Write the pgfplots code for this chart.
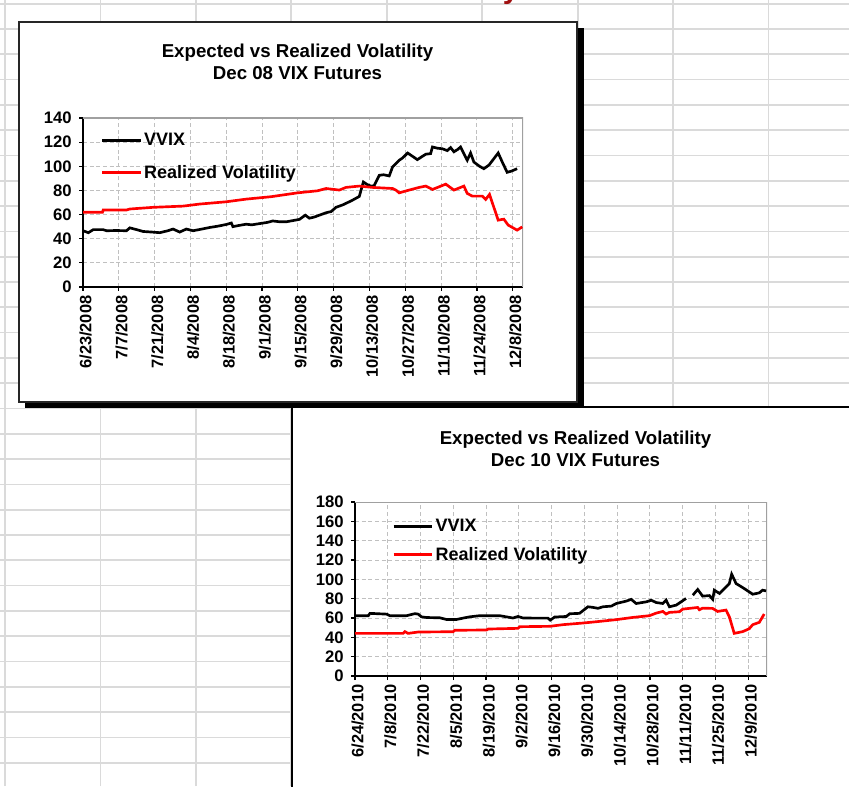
\documentclass[border=0pt]{standalone}
\usepackage{fontspec}
\setmainfont{Liberation Sans}
\usepackage{pgfplots}
\pgfplotsset{compat=1.18}
\definecolor{cellgrid}{HTML}{DADADA}
\definecolor{ggrid}{HTML}{C0C0C0}
\definecolor{pborder}{HTML}{A0A0A0}
\definecolor{vred}{HTML}{FF0000}
\definecolor{dred}{HTML}{A01010}

\pgfplotstableread{
d v
0 46.6
2.1 45
4 47.5
7.9 47.5
9.2 46.6
13 46.8
17 46.6
18.3 49
21 47.5
23.5 46
27 45.5
30 45
33 46.5
35.2 48
37.8 45.5
40.4 48
43 46.6
46 47.8
49.5 49.3
53 50.5
56 51.8
58 53
58.6 50
61 51
63.8 52
66 51.5
69 52.5
72 53.5
74.2 54.7
77 54
79.4 54
82 55
84.6 56
86.9 59.5
88.5 57
90.5 58
92.4 59.5
95 61.5
97 62.5
98.9 66
101.5 68
103.5 70
105.4 72
108 75
109.6 87
111 85
112.6 83.5
113.8 84
115.8 92.5
117.5 93
119.7 92
121 99.4
123.6 105
125 107
126.9 111
129 108
130.7 105.5
132.5 108
134 110
135.9 110.5
136.6 116
138.5 115
140.5 114.5
142.4 113
143.7 115.5
145 112
146.5 114
147.6 116
149 110
150.2 105
151.5 111
152.8 103.5
155 100
156.7 98
158.7 101
160.5 106
162.3 111
163.9 103.5
165.8 95
167.5 96
169.7 98
}\vvixA

\pgfplotstableread{
d v
0 61.9
7.6 61.9
7.9 63.8
17 63.8
18.3 64.6
27.4 66
39.1 67
45.6 68.7
56 70.6
63.8 72.8
73.5 74.8
83.9 78
91.7 79.7
95 81.6
100.2 80.3
102.8 82.5
108 83.6
113.2 82.5
121 81.6
122.3 80.3
123.6 78
127.5 80.3
131.4 82.5
134 83.6
136.6 80.8
141.8 85.2
145 80.3
148.9 83.6
150.2 77.5
152.2 75.3
156.1 75.3
157.4 72.5
158.9 76.7
162.3 55.4
164.5 56.2
166.2 51.3
169.7 47.1
171.7 49.8
}\realA

\pgfplotstableread{
d v
0 62.4
5.7 62.4
6.4 64.8
13.5 64
14.9 62.4
22 62.4
25.6 64.5
27 64
28.4 61.2
30.6 60.5
36.2 60.2
39.1 58.5
43.4 58.5
46.2 59.9
49 61.2
53.3 62.4
61.8 62.4
67.5 60
69.6 61.6
71.8 60
76 59.9
82.4 59.9
83.4 57.8
85.3 61
90.3 61.6
91.7 64.4
95.9 64.8
99.5 71.6
101.6 71
103.8 70
105.9 71.6
109.5 72.3
111.6 75
115.9 77.5
118 79.3
120.1 75
124.4 76.7
126.5 78.4
128.7 76
131.5 75
132.9 78.4
134.3 71.6
137.2 73.3
139.3 76.7
141.4 80.2
142.8 nan
144.3 83.6
146.4 89.5
148.5 82.6
151.4 83.2
152.8 79.3
153.5 88.8
155.7 85.4
158.5 92.2
159.9 95.6
160.9 105.3
162.8 95.6
165.6 91.5
169.9 84.6
172.7 86
174.1 88.8
175.6 88
}\vvixB

\pgfplotstableread{
d v
0 44.1
20.6 44.1
21.3 45.9
22.7 44.1
27 45.5
41.9 45.8
42.6 47.3
56.2 47.6
56.9 48.6
69.6 49.3
70.4 51
83.2 51.4
88.8 53.1
97.4 54.8
104.5 56.5
111.6 58.3
118.7 60.6
125.8 62.4
128.7 65.1
131.5 66.8
132.9 64.1
134.3 65.8
138.6 66.5
140 69.2
146.4 70.9
147.1 68.5
148.5 70.2
152.8 69.9
154.9 66.8
158.5 68.2
159.9 61.3
162 44.1
165.6 45.9
168.4 48.9
169.9 53.1
172.7 55.5
174.8 64.1
}\realB

\pgfplotsset{vixstyle/.style={
  scale only axis,
  axis lines*=left,
  axis line style={line width=1.5pt, black},
  ymin=0, xmin=0,
  xtick={0,14,...,168},
  tick align=outside,
  major tick length=3pt,
  tick style={black, line width=0.9pt},
  grid=major,
  major grid style={ggrid, line width=0.7pt, dash pattern=on 3pt off 2pt},
  xticklabel style={rotate=90, anchor=east, font=\bfseries\fontsize{12.3}{12.3}\selectfont, xshift=0pt, yshift=-2pt},
  yticklabel style={font=\bfseries\fontsize{12.5}{12.5}\selectfont, xshift=-2pt},
  /pgf/number format/assume math mode=true,
  unbounded coords=jump,
  legend cell align=left,
  legend image code/.code={\draw[##1] (0pt,0pt) -- (29pt,0pt);},
}}

\begin{document}
\begin{tikzpicture}[x=0.75pt,y=0.75pt]
\useasboundingbox (0,0) rectangle (849,786);
\begin{scope}
\clip (0,0) rectangle (849,786);
% spreadsheet cells
\foreach \i in {0,...,8} \draw[cellgrid, line width=1.3pt] ({5+95.45*\i},0) -- ({5+95.45*\i},786);
\foreach \j in {0,...,31} \draw[cellgrid, line width=1.3pt] (0,{786-3.7-25.3*\j}) -- (849,{786-3.7-25.3*\j});
\node[anchor=base, text=dred, font=\bfseries\fontsize{22}{22}\selectfont] at (511,787) {y};

% chart 1 frame
\fill[black] (25,758) rectangle (584,378);
\filldraw[fill=white, draw=black!85, line width=0.8pt] (19,764) rectangle (577,384);
\node[align=center, font=\bfseries\fontsize{14}{16.5}\selectfont] at (297.5,724) {Expected vs Realized Volatility\\Dec 08 VIX Futures};

\begin{axis}[vixstyle,
  at={(62.25pt,374.25pt)}, anchor=south west,
  width=330pt, height=126.75pt,
  xmax=172, ymax=140, ytick={0,20,...,140},
  xticklabels={6/23/2008,7/7/2008,7/21/2008,8/4/2008,8/18/2008,9/1/2008,9/15/2008,9/29/2008,10/13/2008,10/27/2008,11/10/2008,11/24/2008,12/8/2008},
  legend style={draw=none, fill=none, at={(axis description cs:0.04,0.923)}, anchor=north west, inner sep=0pt,
    font=\bfseries\fontsize{13.5}{13.5}\selectfont, row sep=10pt, nodes={inner sep=1.5pt}},
]
\draw[pborder, line width=1.2pt] (rel axis cs:0,1) -- (rel axis cs:1,1) -- (rel axis cs:1,0);
\addplot[black, line width=2pt] table[x=d,y=v] {\vvixA};
\addlegendentry{VVIX}
\addplot[vred, line width=2pt] table[x=d,y=v] {\realA};
\addlegendentry{Realized Volatility}
\end{axis}

% chart 2 frame
\filldraw[fill=white, draw=black, line width=0.8pt] (292,379) rectangle (900,-114);
\node[align=center, font=\bfseries\fontsize{14}{16.5}\selectfont] at (575.5,337) {Expected vs Realized Volatility\\Dec 10 VIX Futures};

\begin{axis}[vixstyle,
  at={(266.25pt,82.5pt)}, anchor=south west,
  width=309pt, height=130.5pt,
  xmax=176, ymax=180, ytick={0,20,...,180},
  xticklabels={6/24/2010,7/8/2010,7/22/2010,8/5/2010,8/19/2010,9/2/2010,9/16/2010,9/30/2010,10/14/2010,10/28/2010,11/11/2010,11/25/2010,12/9/2010},
  legend style={draw=none, fill=none, at={(axis description cs:0.09,0.912)}, anchor=north west, inner sep=0pt,
    font=\bfseries\fontsize{13.5}{13.5}\selectfont, row sep=7pt, nodes={inner sep=1.5pt}},
]
\draw[pborder, line width=1.2pt] (rel axis cs:0,1) -- (rel axis cs:1,1) -- (rel axis cs:1,0);
\addplot[black, line width=2pt] table[x=d,y=v] {\vvixB};
\addlegendentry{VVIX}
\addplot[vred, line width=2pt] table[x=d,y=v] {\realB};
\addlegendentry{Realized Volatility}
\end{axis}
\end{scope}
\end{tikzpicture}
\end{document}
